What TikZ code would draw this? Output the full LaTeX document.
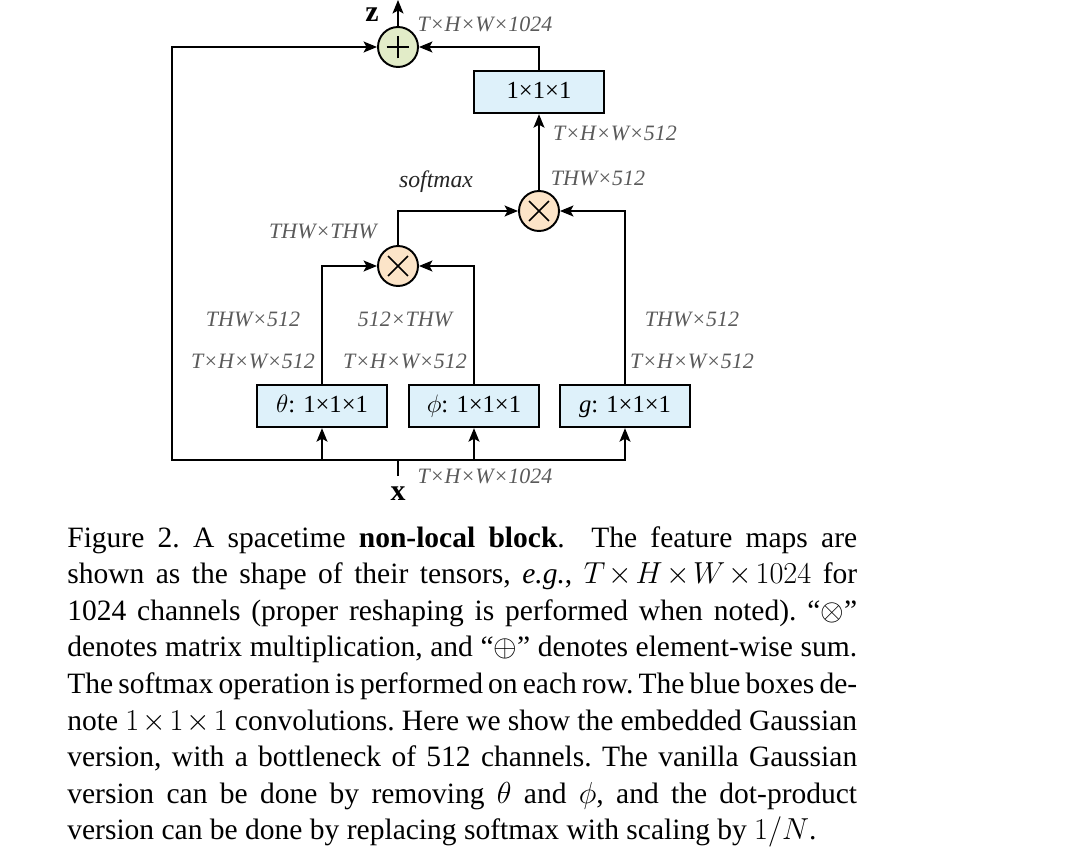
\documentclass[tikz,border=0pt]{standalone}
\usepackage{fontspec}
\setmainfont{Liberation Serif}
\usetikzlibrary{arrows.meta, positioning}

\definecolor{convblue}{RGB}{222,241,250}
\definecolor{sumgreen}{RGB}{226,236,200}
\definecolor{mulpeach}{RGB}{252,228,200}
\definecolor{dimgray}{RGB}{90,90,90}

\newcommand{\tx}{\mkern2mu{\times}\mkern2mu}

\begin{document}
\begin{tikzpicture}[x=0.02cm, y=-0.02cm,
    conv/.style={draw, rectangle, fill=convblue, line width=1.1pt, minimum width=2.6cm, minimum height=0.85cm, text height=10pt, text depth=3pt, font=\fontsize{14}{16}\selectfont},
    sumop/.style={draw, circle, fill=sumgreen, line width=1.1pt, minimum size=0.8cm, inner sep=0pt,
      path picture={\draw[line width=0.9pt] ([xshift=-0.23cm]path picture bounding box.center) -- ([xshift=0.23cm]path picture bounding box.center)
        ([yshift=-0.23cm]path picture bounding box.center) -- ([yshift=0.23cm]path picture bounding box.center);}},
    mulop/.style={draw, circle, fill=mulpeach, line width=1.1pt, minimum size=0.8cm, inner sep=0pt,
      path picture={\draw[line width=0.9pt] ([xshift=-0.2cm, yshift=-0.2cm]path picture bounding box.center) -- ([xshift=0.2cm, yshift=0.2cm]path picture bounding box.center)
        ([xshift=-0.2cm, yshift=0.2cm]path picture bounding box.center) -- ([xshift=0.2cm, yshift=-0.2cm]path picture bounding box.center);}},
    dims/.style={text=dimgray, inner sep=0pt, font=\fontsize{12.5}{14}\selectfont\itshape},
    capline/.style={anchor=base west, inner sep=0pt, font=\fontsize{16.8}{20}\selectfont\frenchspacing},
    flow/.style={line width=0.8pt, -{Stealth[length=0.27cm, width=0.22cm, inset=0.06cm]}},
    link/.style={line width=0.8pt}]
    \useasboundingbox (0,0) rectangle (1080,848);

    % operators
    \node [sumop] (sum) at (398,47) {};
    \node [mulop] (mulB) at (539,211) {};
    \node [mulop] (mulA) at (398,266) {};

    % 1x1x1 convolutions
    \node [conv] (out) at (539,92) {1×1×1};
    \node [conv] (theta) at (322,406) {$\theta$: 1×1×1};
    \node [conv] (phi) at (474,406) {$\phi$: 1×1×1};
    \node [conv] (g) at (625,406) {\textit{g}: 1×1×1};

    \coordinate (xin) at (398,476);
    \coordinate (split) at (398,460);
    \coordinate (skip) at (172,460);
    \coordinate (zout) at (398,0);

    \node [inner sep=1pt, font=\fontsize{17}{17}\selectfont\bfseries] (zlab) at (372,15) {z};
    \node [inner sep=1pt, font=\fontsize{17}{17}\selectfont\bfseries] (xlab) at (398,494) {x};

    % shapes of the tensors
    \node [dims] (dimz) at (485,24) {T×H×W×1024};
    \node [dims] (dimx) at (485,476) {T×H×W×1024};
    \node [dims] (dimy1) at (615,133) {T×H×W×512};
    \node [dims] (dimy2) at (598,178) {THW×512};
    \node [dims, text=black!85, font=\fontsize{13.5}{14}\selectfont\itshape] (smax) at (436,182) {softmax};
    \node [dims] (dimf) at (323,231) {THW×THW};
    \node [dims] (dimt1) at (253,319) {THW×512};
    \node [dims] (dimp1) at (405,319) {512×THW};
    \node [dims] (dimg1) at (692,319) {THW×512};
    \node [dims] (dimt2) at (253,361) {T×H×W×512};
    \node [dims] (dimp2) at (405,361) {T×H×W×512};
    \node [dims] (dimg2) at (692,361) {T×H×W×512};

    % connectors
    \draw[link] (xin) -- (split);
    \draw[flow] (split) -| (theta);
    \draw[flow] (split) -| (phi);
    \draw[flow] (split) -| (g);
    \draw[flow] (split) -- (skip) |- (sum);
    \draw[flow] (theta) |- (mulA);
    \draw[flow] (phi) |- (mulA);
    \draw[flow] (mulA) |- (mulB);
    \draw[flow] (g) |- (mulB);
    \draw[flow] (mulB) -- (out);
    \draw[flow] (out) |- (sum);
    \draw[flow] (sum) -- (zout);

    % caption
    \foreach \capline [count=\i from 0] in {
      {Figure 2. A spacetime \textbf{non-local block}.\ \ The feature maps are},
      {shown as the shape of their tensors, \textit{e.g.}, $T\tx H\tx W\tx 1024$ for},
      {1024 channels (proper reshaping is performed when noted). “$\otimes$”},
      {denotes matrix multiplication, and “$\oplus$” denotes element-wise sum.},
      {The softmax operation is performed on each row. The blue boxes de-},
      {note $1\tx 1\tx 1$ convolutions. Here we show the embedded Gaussian},
      {version, with a bottleneck of 512 channels. The vanilla Gaussian},
      {version can be done by removing $\theta$ and $\phi$, and the dot-product}}
      \node [capline] (cap\i) at (67,{547+36.6*\i}) {\makebox[15.8cm][s]{\capline}};
    \node [capline] (cap8) at (67,{547+36.6*8}) {version can be done by replacing softmax with scaling by $1/N$.};
\end{tikzpicture}
\end{document}
